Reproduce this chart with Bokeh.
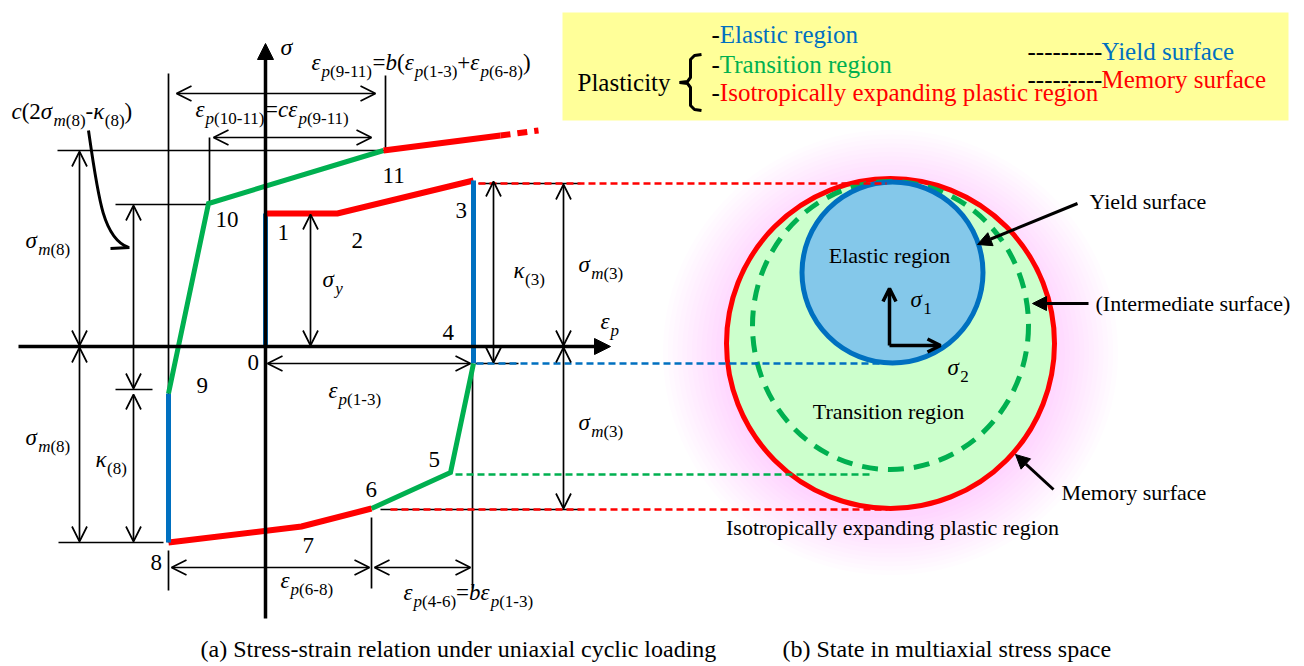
from bokeh.plotting import figure
from bokeh.models import Range1d, Arrow, OpenHead, NormalHead
from bokeh.core.properties import value
from bokeh.embed import file_html
from bokeh.resources import INLINE

FONT = "Liberation Serif"
BLUE, GREEN, RED = "#0070C0", "#00B050", "#FF0000"
COLORS = {"blue": BLUE, "green": GREEN, "red": RED}
WIDTHS = {"blue": 5, "green": 5, "red": 6}

# ---------------- data: uniaxial stress-strain path (diagram units) ----------------
point_labels = ["0", "1", "2", "3", "4", "5", "6", "7", "8", "9", "10", "11"]
strain = [0, 0, 72, 208, 208, 185, 106, 36, -97, -97, -57, 118]
stress = [0, 133, 133, 166, -17, -126, -162, -180, -196, -47, 143, 196]
segment_region = ["blue", "red", "red", "blue", "green", "green", "red", "red", "blue", "green", "green"]
tail_strain = [118, 235]
tail_stress = [196, 211]
tail_dot_strain = [235, 273]
tail_dot_stress = [211, 216]

# ---------------- data: multiaxial surfaces ----------------
surface_names = ["Memory surface", "Intermediate surface", "Yield surface"]
surface_cx = [890, 890, 892]
surface_cy = [343, 325, 272]
surface_w = [328, 276, 181]
surface_h = [330, 288, 181]

legend_regions = ["Elastic region", "Transition region", "Isotropically expanding plastic region"]
legend_surfaces = ["Yield surface", "Memory surface"]

# ---------------- figure (origin of the diagram at page pixel 265,346) ----------------
W, H = 1304, 666
OX, OY = 265, 346
def X(px): return px - OX
def Y(py): return OY - py

p = figure(width=W, height=H, x_range=Range1d(0 - OX, W - OX),
           y_range=Range1d(OY - H, OY), output_backend="svg",
           toolbar_location=None, min_border=0,
           x_axis_location=None, y_axis_location=None)
p.grid.visible = False
p.outline_line_color = None

# ---------------- text bank ----------------
BASE_SHIFT = 0.36   # renderer places alphabetic text a little low; compensate (em)
bank = {}
def put(px, py, s, size, italic=False, color="black", align="left"):
    key = (size, italic, color, align)
    d = bank.setdefault(key, {"x": [], "y": [], "text": []})
    d["x"].append(X(px)); d["y"].append(Y(py - BASE_SHIFT * size)); d["text"].append(s)

CW = {'(': .333, ')': .333, '-': .333, '=': .564, '+': .564, ' ': .25, 'p': .5, 'm': .722,
      'b': .5, 'c': .444, 'y': .444, 'ε': .44, 'σ': .55, 'κ': .5}
def tw(s, size):
    return sum(CW.get(c, .5) for c in s) * size

def rich(parts, px, py, size=23, sub=17, dy=7):
    x = px
    for s, it, sb in parts:
        fs = sub if sb else size
        put(x, py + (dy if sb else 0), s, fs, italic=bool(it))
        x += tw(s, fs)

def eps(sub): return [("ε", 1, 0), ("p", 1, 1), (sub, 0, 1)]
def sig_m(n): return [("σ", 1, 0), ("m", 1, 1), ("(%s)" % n, 0, 1)]
def kap(n): return [("κ", 1, 0), ("(%s)" % n, 0, 1)]

# ---------------- right panel: glow and surfaces ----------------
n_glow = 14
for k in range(n_glow):
    f = k / (n_glow - 1)
    p.ellipse(x=[X(890)], y=[Y(352)], width=[455 - 125 * f], height=[445 - 113 * f],
              fill_color="#FF70FF", fill_alpha=0.02, line_color=None)

p.ellipse(x=[X(surface_cx[0])], y=[Y(surface_cy[0])], width=[surface_w[0]], height=[surface_h[0]],
          fill_color="#CCFFCC", line_color=RED, line_width=5)
p.ellipse(x=[X(surface_cx[1])], y=[Y(surface_cy[1])], width=[surface_w[1]], height=[surface_h[1]],
          fill_color=None, line_color=GREEN, line_width=5, line_dash="16 10")
p.ellipse(x=[X(surface_cx[2])], y=[Y(surface_cy[2])], width=[surface_w[2]], height=[surface_h[2]],
          fill_color="#84C8EA", line_color=BLUE, line_width=5)

# ---------------- thin guide lines ----------------
gx0, gy0, gx1, gy1 = [], [], [], []
def seg(a, b, c, d):
    gx0.append(X(a)); gy0.append(Y(b)); gx1.append(X(c)); gy1.append(Y(d))
seg(168, 73, 168, 542); seg(168, 550, 168, 590)
seg(385, 75, 385, 150)
seg(209, 137, 209, 203)
seg(371, 517, 371, 588)
seg(472, 363, 472, 588)
seg(57, 150, 385, 150)
seg(115, 204, 209, 204)
seg(58, 542, 163, 542)
seg(115, 389, 152, 389)
seg(475, 363, 518, 363)
seg(478, 183, 580, 183)
seg(380, 509, 580, 509)
p.segment(x0=gx0, y0=gy0, x1=gx1, y1=gy1, line_color="black", line_width=1.7)

# dashed connection lines to the stress-space picture
p.line([X(478), X(886)], [Y(183), Y(183)], line_color=RED, line_width=2.5, line_dash="7 4")
p.line([X(476), X(886)], [Y(363), Y(363)], line_color=BLUE, line_width=2.5, line_dash="7 4")
p.line([X(455), X(870)], [Y(474), Y(474)], line_color=GREEN, line_width=2.5, line_dash="7 4")
p.line([X(390), X(887)], [Y(509), Y(509)], line_color=RED, line_width=2.5, line_dash="7 4")

# ---------------- dimension arrows ----------------
def dim(a, b, c, d):
    p.add_layout(Arrow(start=OpenHead(size=15, line_width=1.7), end=OpenHead(size=15, line_width=1.7),
                       x_start=X(a), y_start=Y(b), x_end=X(c), y_end=Y(d), line_width=1.7))
dim(79, 151, 79, 345); dim(79, 347, 79, 541)
dim(133, 205, 133, 388); dim(133, 394, 133, 541)
dim(310, 214, 310, 345)
dim(493, 181, 493, 362)
dim(563, 184, 563, 345); dim(563, 347, 563, 508)
dim(176, 93, 375, 93)
dim(213, 137, 371, 137)
dim(267, 363, 470, 363)
dim(171, 567, 369, 567); dim(374, 567, 470, 567)

# axes of the diagram
p.add_layout(Arrow(end=NormalHead(size=16, fill_color="black", line_color="black"),
                   x_start=X(18), y_start=Y(346), x_end=X(610), y_end=Y(346), line_width=3.5))
p.add_layout(Arrow(end=NormalHead(size=16, fill_color="black", line_color="black"),
                   x_start=X(265), y_start=Y(618), x_end=X(265), y_end=Y(43), line_width=3.5))

# curved pointer for c(2σm(8)-κ(8))
p.bezier(x0=[X(88)], y0=[Y(130)], x1=[X(128)], y1=[Y(247)], cx0=[X(98)], cy0=[Y(200)],
         cx1=[X(103)], cy1=[Y(238)], line_color="black", line_width=3)
p.line([X(110), X(129)], [Y(248), Y(247)], line_color="black", line_width=3)

# ---------------- stress-strain path ----------------
runs = []
cur, col = [0], segment_region[0]
for i, c in enumerate(segment_region):
    if c != col:
        runs.append((col, cur)); cur, col = [i], c
    cur.append(i + 1)
runs.append((col, cur))
for col, idx in runs:
    p.line([strain[k] for k in idx], [stress[k] for k in idx], line_color=COLORS[col],
           line_width=WIDTHS[col], line_join="miter")
p.line(tail_strain, tail_stress, line_color=RED, line_width=6)
p.line(tail_dot_strain, tail_dot_stress, line_color=RED, line_width=6, line_dash="10 7")

# ---------------- right panel arrows ----------------
def harrow(a, b, c, d):
    p.add_layout(Arrow(end=NormalHead(size=14, fill_color="black", line_color="black"),
                       x_start=X(a), y_start=Y(b), x_end=X(c), y_end=Y(d), line_width=3))
harrow(1077, 203, 977, 244)
harrow(1088, 303, 1032, 303)
harrow(1053, 489, 1015, 454)
for (a, b, c, d) in [(889, 345, 889, 288), (889, 345, 940, 345)]:
    p.add_layout(Arrow(end=OpenHead(size=13, line_width=3.5), x_start=X(a), y_start=Y(b),
                       x_end=X(c), y_end=Y(d), line_width=3.5))

# ---------------- legend box ----------------
p.quad(left=[X(562)], right=[X(1288)], top=[Y(12)], bottom=[Y(120)], fill_color="#FFFF99", line_color=None)
bx = [701, 694, 690, 690, 687, 679, 687, 690, 690, 694, 701]
by = [54, 55, 59, 77, 81, 82, 83, 87, 105, 109, 110]
p.line([X(v) for v in bx], [Y(v) for v in by], line_color="black", line_width=3)

put(577, 91, "Plasticity", 25)
for name, col, yb in zip(legend_regions, [BLUE, GREEN, RED], [43, 73, 101]):
    put(711, yb, "-", 25)
    put(711 + tw("-", 25), yb, name, 25, color=col)
for name, col, yb in zip(legend_surfaces, [BLUE, RED], [60, 88]):
    put(1027, yb, "---------", 25)
    put(1101, yb, name, 25, color=col)

# ---------------- labels of the diagram ----------------
label_pos = [(247, 370), (277, 240), (351, 248), (455, 218), (442, 340), (428, 467),
             (365, 497), (302, 553), (150, 570), (196, 393), (215, 227), (382, 183)]
for lab, (lx, ly) in zip(point_labels, label_pos):
    put(lx, ly, lab, 23)

put(280, 55, "σ", 24, italic=True)
rich(eps("(9-11)") + [("=", 0, 0), ("b", 1, 0), ("(", 0, 0)] + eps("(1-3)") + [("+", 0, 0)]
     + eps("(6-8)") + [(")", 0, 0)], 311, 70)
rich(eps("(10-11)") + [("=", 0, 0), ("c", 1, 0)] + eps("(9-11)"), 195, 117)
rich([("c", 1, 0), ("(2", 0, 0)] + sig_m(8) + [("-", 0, 0)] + kap(8) + [(")", 0, 0)], 11, 119)
rich(sig_m(8), 25, 248)
rich(sig_m(8), 25, 445)
rich(kap(8), 95, 467)
rich([("σ", 1, 0), ("y", 1, 1)], 322, 287)
rich(kap(3), 513, 278)
rich(sig_m(3), 578, 272)
rich(sig_m(3), 578, 430)
rich([("ε", 1, 0), ("p", 1, 1)], 600, 329)
rich(eps("(1-3)"), 328, 398)
rich(eps("(6-8)"), 280, 588)
rich(eps("(4-6)") + [("=", 0, 0), ("b", 1, 0)] + eps("(1-3)"), 403, 600)
rich([("σ", 1, 0), ("1", 0, 1)], 910, 307)
rich([("σ", 1, 0), ("2", 0, 1)], 947, 375)

# right panel texts
put(889, 263, "Elastic region", 22, align="center")
put(888, 419, "Transition region", 22, align="center")
put(892, 535, "Isotropically expanding plastic region", 22, align="center")
put(1089, 209, "Yield surface", 22)
put(1095, 311, "(Intermediate surface)", 22)
put(1061, 500, "Memory surface", 22)

# captions
put(200, 657, "(a) Stress-strain relation under uniaxial cyclic loading", 24)
put(782, 657, "(b) State in multiaxial stress space", 24)

for (size, italic, color, align), d in bank.items():
    p.text(x=d["x"], y=d["y"], text=d["text"], text_font=value(FONT),
           text_font_size=value("%dpx" % size), text_font_style="italic" if italic else "normal",
           text_color=color, text_align=align, text_baseline="alphabetic")

open("out.html", "w").write(file_html(p, INLINE))
